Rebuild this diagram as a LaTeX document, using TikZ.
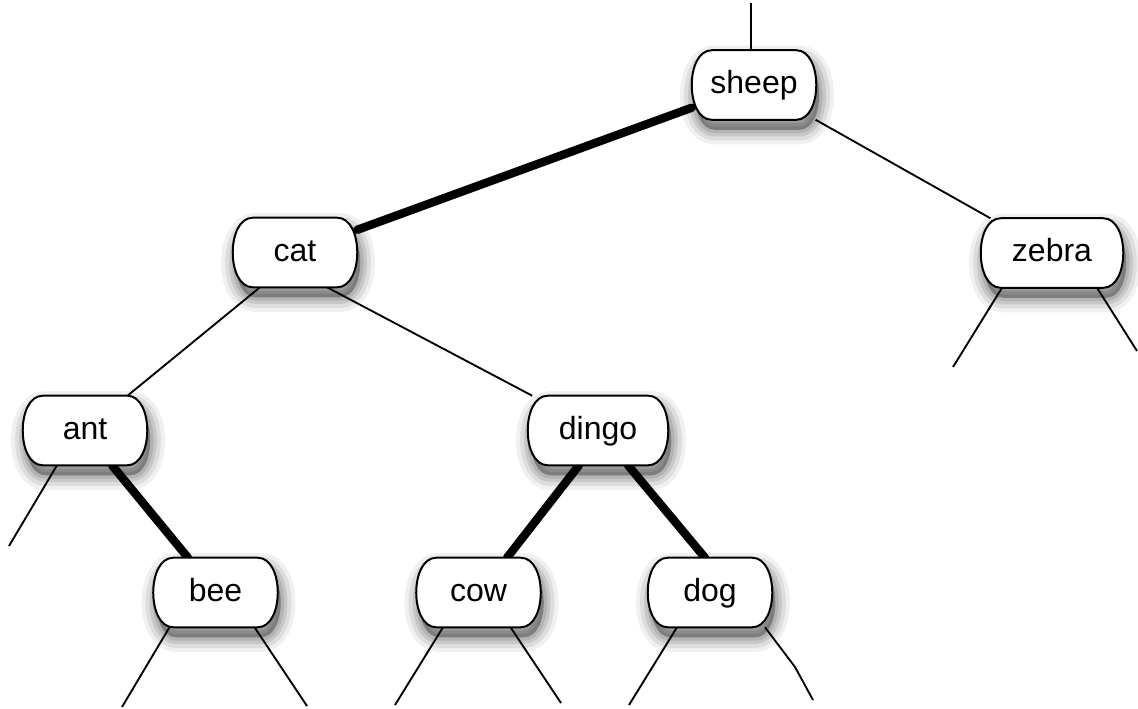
\documentclass[tikz,border=0pt]{standalone}
\usepackage{fontspec}
\setmainfont{Liberation Sans}
\usetikzlibrary{calc}
\pgfdeclarelayer{shadow}\pgfdeclarelayer{edges}\pgfdeclarelayer{pill}
\pgfsetlayers{shadow,edges,pill,main}
\newcommand\pillpath[3]{let \p1=($(#1.north west)+(#2,#3)$), \p2=($(#1.south east)+(#2,#3)$) in (\x1+15pt,\y1) -- (\x2-15pt,\y1) .. controls (\x2+5pt,\y1) and (\x2+5pt,\y2) .. (\x2-15pt,\y2) -- (\x1+15pt,\y2) .. controls (\x1-5pt,\y2) and (\x1-5pt,\y1) .. (\x1+15pt,\y1) -- cycle}
\newcommand\pillshape[1]{%
\begin{pgfonlayer}{shadow}
\fill[black,opacity=0.3] \pillpath{#1}{3}{10};
\draw[black,opacity=0.1,line width=5pt] \pillpath{#1}{3}{10};
\draw[black,opacity=0.1,line width=10pt] \pillpath{#1}{3}{10};
\draw[black,opacity=0.08,line width=16pt] \pillpath{#1}{3}{10};
\draw[black,opacity=0.06,line width=22pt] \pillpath{#1}{3}{10};
\end{pgfonlayer}
\begin{pgfonlayer}{pill}
\draw[pillline] \pillpath{#1}{0}{0};
\end{pgfonlayer}}
\tikzset{
  tn/.style={minimum width=93pt, minimum height=51.75pt, inner sep=0pt,
    text height=18pt, text depth=4.5pt, font=\fontsize{24}{28}\selectfont},
  pillline/.style={draw=black, fill=white, line width=1.5pt},
  thin/.style={line width=1.4pt, black},
  thick/.style={line width=6.3pt, black, line cap=round},
}
\begin{document}
\begin{tikzpicture}[x=0.75pt,y=-0.75pt]
\useasboundingbox (0,0) rectangle (1138,709);
\node[tn] (sheep) at (754,85) {sheep};
\node[tn] (cat) at (295,252.5) {cat};
\node[tn,minimum width=106.5pt] (zebra) at (1052,253) {zebra};
\node[tn] (ant) at (85,430.5) {ant};
\node[tn,minimum width=105pt] (dingo) at (598,430.5) {dingo};
\node[tn] (bee) at (215.5,592.5) {bee};
\node[tn] (cow) at (478.5,592.5) {cow};
\node[tn] (dog) at (710,592.5) {dog};
\coordinate (top) at (751,3);
\coordinate (al) at (9,546);
\coordinate (bl) at (122,707);
\coordinate (br) at (307,706);
\coordinate (cl) at (395,705);
\coordinate (cr) at (561,703);
\coordinate (dl) at (629,705);
\coordinate (dk) at (795,667);
\coordinate (dr) at (813,700);
\coordinate (zl) at (953,367);
\coordinate (zr) at (1137,351);
\pillshape{sheep}
\pillshape{cat}
\pillshape{zebra}
\pillshape{ant}
\pillshape{dingo}
\pillshape{bee}
\pillshape{cow}
\pillshape{dog}
\begin{pgfonlayer}{edges}
\draw[thin] (top) -- ($(sheep.north)+(-3,0)$);
\draw[thick] (sheep) -- (cat);
\draw[thin] (sheep) -- (zebra);
\draw[thin] ($(cat.south)+(-35,0)$) -- (ant);
\draw[thin] ($(cat.south)+(32,0)$) -- (dingo);
\draw[thick] ($(ant.south)+(27,0)$) -- ($(bee.north)+(-27.5,0)$);
\draw[thick] ($(dingo.south)+(-19,0)$) -- ($(cow.north)+(28.5,0)$);
\draw[thick] ($(dingo.south)+(30,0)$) -- ($(dog.north)+(-5,0)$);
\draw[thin] ($(ant.south)+(-28,0)$) -- (al);
\draw[thin] ($(bee.south)+(-46,0)$) -- (bl);
\draw[thin] ($(bee.south)+(39,0)$) -- (br);
\draw[thin] ($(cow.south)+(-35.5,0)$) -- (cl);
\draw[thin] ($(cow.south)+(32,0)$) -- (cr);
\draw[thin] ($(dog.south)+(-33,0)$) -- (dl);
\draw[thin] ($(dog.south)+(55,0)$) -- (dk) -- (dr);
\draw[thin] ($(zebra.south)+(-50,0)$) -- (zl);
\draw[thin] ($(zebra.south)+(45,0)$) -- (zr);
\end{pgfonlayer}
\end{tikzpicture}
\end{document}
